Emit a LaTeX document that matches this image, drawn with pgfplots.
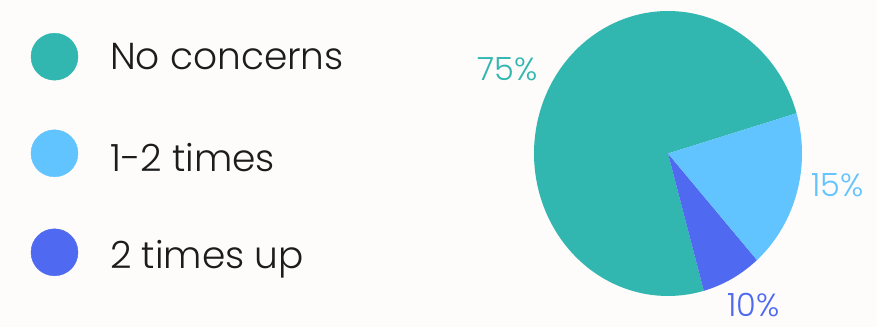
\documentclass[border=0pt]{standalone}
\usepackage{pgfplots}
\pgfplotsset{compat=1.18}
\usepackage{fontspec}
\setmainfont{Poppins Light}
\definecolor{cteal}{HTML}{31B7B0}
\definecolor{clight}{HTML}{62C4FE}
\definecolor{cdark}{HTML}{4F6AF0}
\definecolor{bgcol}{HTML}{FDFCFB}
\definecolor{txt}{HTML}{1C1C1C}
% slice shares in percent (start angle 16.4 deg, counter-clockwise)
\def\vTeal{74.75}
\def\vDark{7.25}
\def\vLight{18.0}
\begin{document}
\begin{tikzpicture}
\begin{axis}[
  width=877pt, height=327pt, scale only axis,
  xmin=0, xmax=877, ymin=0, ymax=327,
  hide axis, clip=false,
]
\fill[bgcol] (rel axis cs:0,0) rectangle (rel axis cs:1,1);
\pgfmathsetmacro{\aA}{16.4}
\pgfmathsetmacro{\aB}{\aA+3.6*\vTeal}
\pgfmathsetmacro{\aC}{\aB+3.6*\vDark}
\pgfmathsetmacro{\aD}{\aC+3.6*\vLight}
\addplot[fill=cteal, draw=none, domain=\aA:\aB, samples=120, variable=\t]
  ({668+134*cos(t)},{173.5+142.5*sin(t)}) -- (axis cs:668,173.5) -- cycle;
\addplot[fill=cdark, draw=none, domain=\aB:\aC, samples=20, variable=\t]
  ({668+134*cos(t)},{173.5+142.5*sin(t)}) -- (axis cs:668,173.5) -- cycle;
\addplot[fill=clight, draw=none, domain=\aC:\aD, samples=40, variable=\t]
  ({668+134*cos(t)},{173.5+142.5*sin(t)}) -- (axis cs:668,173.5) -- cycle;
% legend markers
\addplot[only marks, mark=*, mark size=23.5pt, color=cteal, mark options={draw=cteal, fill=cteal}] coordinates {(54.5,270.3)};
\addplot[only marks, mark=*, mark size=23.5pt, color=clight, mark options={draw=clight, fill=clight}] coordinates {(54.5,173.7)};
\addplot[only marks, mark=*, mark size=23.5pt, color=cdark, mark options={draw=cdark, fill=cdark}] coordinates {(54.5,74.7)};
\node[anchor=base west, inner sep=0pt, text=txt, font=\fontsize{37.5}{40}\selectfont] at (axis cs:110,257) {No concerns};
\node[anchor=base west, inner sep=0pt, text=txt, font=\fontsize{37.5}{40}\selectfont] at (axis cs:110,156) {1-2 times};
\node[anchor=base west, inner sep=0pt, text=txt, font=\fontsize{37.5}{40}\selectfont] at (axis cs:110,58.7) {2 times up};
\node[anchor=base west, inner sep=0pt, text=cteal, font=\fontsize{32}{34}\selectfont] at (axis cs:477,246) {75\%};
\node[anchor=base west, inner sep=0pt, text=clight, font=\fontsize{32}{34}\selectfont] at (axis cs:811,131) {15\%};
\node[anchor=base west, inner sep=0pt, text=cdark, font=\fontsize{32}{34}\selectfont] at (axis cs:727,11) {10\%};
\end{axis}
\end{tikzpicture}
\end{document}
